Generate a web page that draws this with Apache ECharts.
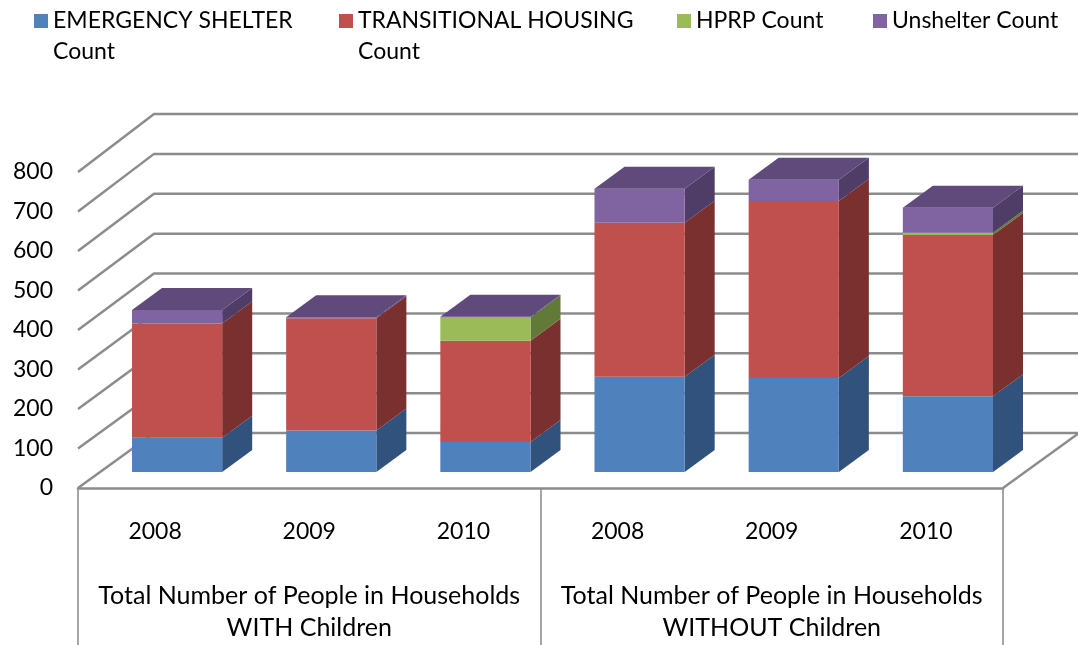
<!DOCTYPE html>
<html>
<head>
<meta charset="utf-8">
<script src="https://cdn.jsdelivr.net/npm/echarts@6/dist/echarts.min.js"></script>
<style>
  html, body { margin: 0; padding: 0; background: #fff; }
  #chart { width: 1078px; height: 645px; }
</style>
</head>
<body>
<div id="chart"></div>
<script>
// data
const years = ['2008', '2009', '2010', '2008', '2009', '2010'];
const groups = [
  'Total Number of People in Households\nWITH Children',
  'Total Number of People in Households\nWITHOUT Children'
];
const yTicks = [0, 100, 200, 300, 400, 500, 600, 700, 800];
const seriesNames = ['EMERGENCY SHELTER Count', 'TRANSITIONAL HOUSING Count', 'HPRP Count', 'Unshelter Count'];
const emergencyShelter = [87, 105, 76, 241, 238, 192];
const transitionalHousing = [289, 284, 256, 390, 448, 408];
const hprp = [0, 0, 59, 0, 0, 6];
const unsheltered = [34, 3, 2, 86, 54, 63];

const FONT = 'Lato';
const frontColors = ['#4F81BD', '#C0504D', '#9BBB59', '#8064A2'];
const sideColors = ['#31527C', '#7A302E', '#627A37', '#4F3D67'];
const topColors = ['#3E6697', '#983E3C', '#7E9A47', '#604A7B'];
const GRID_COLOR = '#8c8c8c';

// oblique "3D" offsets
const WALL_DX = 76, WALL_DY = -55;   // front edge -> back wall
const WALL_STRETCH = 3 / 800;        // back wall scale is a bit taller
const BAR_SHIFT_X = 22, BAR_SHIFT_Y = -16; // bar front plane
const BAR_DX = 30, BAR_DY = -22;     // bar depth
const BAR_RATIO = 0.585;

const allValues = [emergencyShelter, transitionalHousing, hprp, unsheltered];

// stacked ranges [category, base, top]
function stackData(i) {
  return years.map((y, c) => {
    let base = 0;
    for (let k = 0; k < i; k++) base += allValues[k][c];
    return [c, base, base + allValues[i][c]];
  });
}

function barRenderer(i, isTop) {
  return function (params, api) {
    const cat = api.value(0);
    const base = api.value(1);
    const top = api.value(2);
    if (top <= base) return null;
    const band = api.size([1, 0])[0];
    const w = band * BAR_RATIO;
    const pb = api.coord([cat, base]);
    const pt = api.coord([cat, top]);
    const x0 = pb[0] + BAR_SHIFT_X - w / 2;
    const x1 = x0 + w;
    const yb = pb[1] + BAR_SHIFT_Y;
    const yt = pt[1] + BAR_SHIFT_Y;
    const children = [
      {
        type: 'polygon',
        shape: { points: [[x1, yb], [x1 + BAR_DX, yb + BAR_DY], [x1 + BAR_DX, yt + BAR_DY], [x1, yt]] },
        style: { fill: sideColors[i] }
      },
      {
        type: 'rect',
        shape: { x: x0, y: yt, width: w, height: yb - yt },
        style: { fill: frontColors[i] }
      }
    ];
    if (isTop) {
      children.push({
        type: 'polygon',
        shape: { points: [[x0, yt], [x1, yt], [x1 + BAR_DX, yt + BAR_DY], [x0 + BAR_DX, yt + BAR_DY]] },
        style: { fill: topColors[i] }
      });
    }
    return { type: 'group', children: children };
  };
}

function wallRenderer(params, api) {
  const v = api.value(1);
  const cs = params.coordSys;
  const y = api.coord([0, v])[1];
  const xl = cs.x;
  const xr = cs.x + cs.width;
  const right = api.getWidth();
  const by = y + WALL_DY - v * WALL_STRETCH;
  const children = [{
    type: 'polyline',
    shape: { points: [[xl, y], [xl + WALL_DX, by], [right, by]] },
    style: { stroke: GRID_COLOR, lineWidth: 2.5, fill: null }
  }];
  if (v === 0) {
    children.push({
      type: 'polyline',
      shape: { points: [[xr, y], [xr + WALL_DX, by]] },
      style: { stroke: GRID_COLOR, lineWidth: 2.5, fill: null }
    });
  }
  return { type: 'group', children: children };
}

const series = [{
  type: 'custom',
  name: 'walls',
  renderItem: wallRenderer,
  data: yTicks.map(v => [0, v]),
  encode: { x: 0, y: 1 },
  clip: false,
  silent: true,
  z: 1
}];
seriesNames.forEach((name, i) => {
  series.push({
    type: 'custom',
    name: name,
    renderItem: barRenderer(i, i === seriesNames.length - 1),
    data: stackData(i),
    encode: { x: 0, y: [1, 2] },
    itemStyle: { color: frontColors[i] },
    clip: false,
    z: 2 + i
  });
});

const legendLefts = [34, 339, 677, 873];
const legends = seriesNames.map((name, i) => {
  const twoLine = i < 2;
  return {
    data: [name],
    left: legendLefts[i],
    top: twoLine ? -25.5 : 5.5,
    padding: 0,
    icon: 'rect',
    itemWidth: 14,
    itemHeight: 14,
    selectedMode: false,
    // leading blank line keeps the first text line level with the icon
    formatter: n => twoLine ? '\n' + n.replace(' Count', '\nCount') : n,
    textStyle: {
      fontFamily: FONT,
      fontSize: 23,
      color: '#000',
      lineHeight: 31
    }
  };
});

const chart = echarts.init(document.getElementById('chart'), null, { renderer: 'canvas' });
chart.setOption({
  animation: false,
  backgroundColor: '#fff',
  legend: legends,
  grid: { left: 78, right: 75, top: 172, bottom: 157 },
  xAxis: [
    {
      type: 'category',
      data: years,
      position: 'bottom',
      axisLine: { show: false },
      axisTick: { show: false },
      axisLabel: { fontFamily: FONT, fontSize: 23, color: '#000', margin: 32 }
    },
    {
      type: 'category',
      data: groups,
      position: 'bottom',
      axisLine: { show: true, lineStyle: { color: GRID_COLOR, width: 2.5 } },
      axisTick: { show: true, interval: 0, length: 160, lineStyle: { color: '#888', width: 1.5 } },
      axisLabel: { fontFamily: FONT, fontSize: 25, color: '#000', margin: 92, lineHeight: 32, interval: 0 }
    }
  ],
  yAxis: {
    type: 'value',
    min: 0,
    max: 800,
    interval: 100,
    axisLine: { show: false },
    axisTick: { show: false },
    splitLine: { show: false },
    axisLabel: { fontFamily: FONT, fontSize: 23, color: '#000', margin: 25 }
  },
  series: series
});
</script>
</body>
</html>
